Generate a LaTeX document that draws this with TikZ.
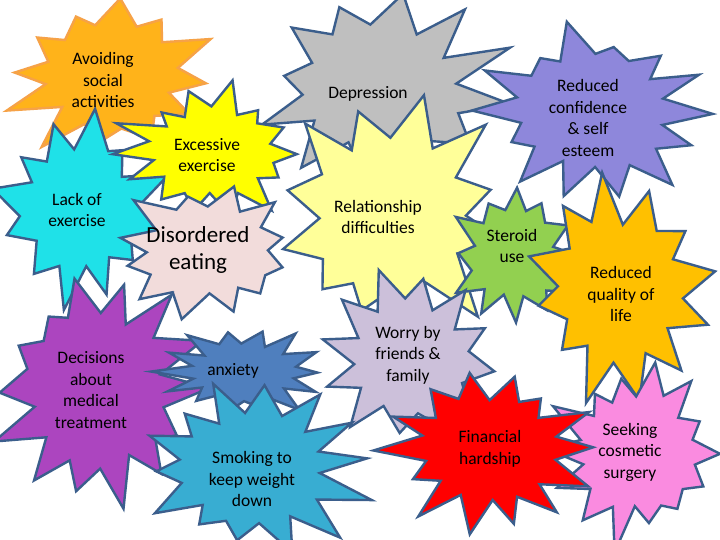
\documentclass[tikz,border=0pt]{standalone}
\usepackage{fontspec}
\setmainfont{Carlito}
\definecolor{edge}{HTML}{3B5E8C}
\definecolor{cavoid}{HTML}{FFB31A}
\definecolor{eavoid}{HTML}{F6A247}
\definecolor{cgray}{HTML}{BFBFBF}
\definecolor{cconf}{HTML}{8E87DB}
\definecolor{cexc}{HTML}{FFFF00}
\definecolor{clack}{HTML}{1FE1E8}
\definecolor{cdis}{HTML}{F2DCDB}
\definecolor{crel}{HTML}{FFFF99}
\definecolor{cster}{HTML}{92D050}
\definecolor{cqual}{HTML}{FFC000}
\definecolor{cdec}{HTML}{AC45BF}
\definecolor{canx}{HTML}{4F7FBE}
\definecolor{cwor}{HTML}{CCC0DA}
\definecolor{csmo}{HTML}{38ADD2}
\definecolor{cfin}{HTML}{FF0000}
\definecolor{ccos}{HTML}{FA8BE0}
\tikzset{
  burst/.style={line width=2.4pt, line join=miter, miter limit=20},
  lbl/.style={align=center, inner sep=0pt, font=\fontsize{17.5}{21.5}\selectfont, text=black},
  biglbl/.style={align=center, inner sep=0pt, font=\fontsize{23}{27}\selectfont, text=black}
}
% seed, cx, cy, rx, ry, points, rotation, fill, draw
\newcommand\burst[9]{%
  \pgfmathsetseed{#1}%
  \gdef\burstpts{}%
  \pgfmathtruncatemacro\burstN{2*#6-1}%
  \foreach \i in {0,...,\burstN}{%
    \pgfmathsetmacro\ba{#7+\i*180/#6+(rnd-0.5)*70/#6}%
    \pgfmathsetmacro\br{isodd(\i) ? 0.64+0.12*rnd : 0.85+0.38*rnd}%
    \pgfmathsetmacro\bx{#2+#4*\br*cos(\ba)}%
    \pgfmathsetmacro\by{#3+#5*\br*sin(\ba)}%
    \ifnum\i=0 \xdef\burstpts{(\bx,\by)}\else\xdef\burstpts{\burstpts -- (\bx,\by)}\fi
  }%
  \edef\bursttmp{\noexpand\draw[burst,fill=#8,draw=#9] \burstpts -- cycle;}%
  \bursttmp
}
\begin{document}
\begin{tikzpicture}[x=1pt,y=-1pt]
\useasboundingbox (0,0) rectangle (720,540);
\clip (0,0) rectangle (720,540);
\fill[white] (0,0) rectangle (720,540);
% stars (back to front)
\burst{11}{110}{76}{98}{72}{12}{5}{cavoid}{eavoid}
\burst{23}{382}{88}{115}{86}{12}{-20}{cgray}{edge}
\burst{37}{595}{112}{108}{78}{14}{0}{cconf}{edge}
\burst{41}{80}{210}{80}{88}{12}{10}{clack}{edge}
\burst{53}{210}{152}{86}{61}{14}{0}{cexc}{edge}
\burst{67}{207}{252}{88}{63}{12}{15}{cdis}{edge}
\burst{71}{390}{218}{108}{110}{12}{-15}{crel}{edge}
\burst{83}{515}{256}{60}{63}{12}{0}{cster}{edge}
\burst{97}{620}{290}{90}{102}{12}{-10}{cqual}{edge}
\burst{101}{98}{390}{97}{106}{14}{0}{cdec}{edge}
\burst{113}{242}{372}{76}{40}{14}{0}{canx}{edge}
\burst{127}{410}{358}{84}{79}{12}{10}{cwor}{edge}
\burst{131}{252}{468}{106}{78}{14}{-5}{csmo}{edge}
\burst{149}{636}{452}{80}{84}{14}{0}{ccos}{edge}
\burst{151}{490}{450}{95}{76}{14}{0}{cfin}{edge}
% labels
\node[lbl] (avoid) at (103,80) {Avoiding\\social\\activities};
\node[lbl] (depr) at (368,94) {Depression};
\node[lbl] (conf) at (588,118) {Reduced\\confidence\\\& self\\esteem};
\node[lbl] (exc) at (207,155) {Excessive\\exercise};
\node[lbl] (lack) at (77,210) {Lack of\\exercise};
\node[biglbl] (dis) at (198,250) {Disordered\\eating};
\node[lbl] (rel) at (378,217) {Relationship\\difficulties};
\node[lbl] (ster) at (512,246) {Steroid\\use};
\node[lbl] (qual) at (621,294) {Reduced\\quality of\\life};
\node[lbl] (dec) at (91,390) {Decisions\\about\\medical\\treatment};
\node[lbl] (anx) at (233,371) {anxiety};
\node[lbl] (wor) at (408,355) {Worry by\\friends \&\\family};
\node[lbl] (smo) at (252,479) {Smoking to\\keep weight\\down};
\node[lbl] (fin) at (490,449) {Financial\\hardship};
\node[lbl] (cos) at (630,452) {Seeking\\cosmetic\\surgery};
\end{tikzpicture}
\end{document}
